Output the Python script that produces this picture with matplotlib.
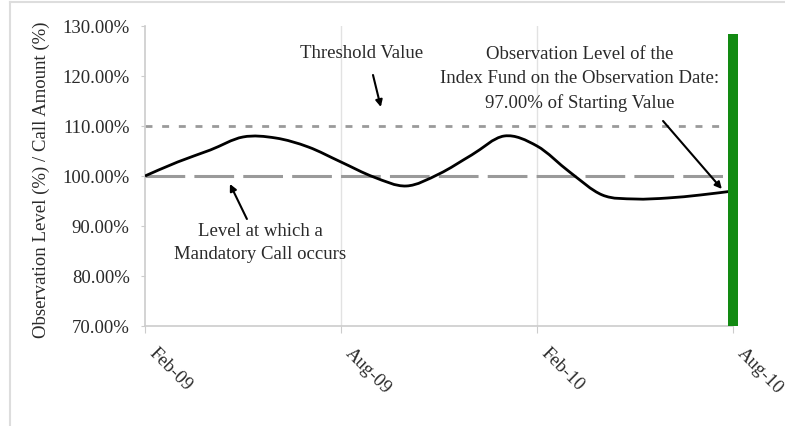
import matplotlib.pyplot as plt
import matplotlib.transforms as mtransforms
from matplotlib.lines import Line2D
from matplotlib.path import Path
from matplotlib.patches import PathPatch

plt.rcParams['font.family'] = ['Liberation Serif', 'DejaVu Serif']

# monthly observation level, Feb-09 .. Aug-10
months = list(range(19))
level = [100.0, 102.8, 105.2, 107.8, 107.6, 105.8, 102.8, 99.8, 98.0, 100.4,
         104.2, 108.0, 106.0, 100.8, 96.2, 95.4, 95.6, 96.2, 97.0]
tick_pos = [0, 6, 12, 18]
tick_labels = ["Feb-09", "Aug-09", "Feb-10", "Aug-10"]
threshold = 110.0
call_level = 100.0
obs_bar = 128.4

txt = '#2a2a2a'
fs = 13.5
fig = plt.figure(figsize=(7.85, 4.27), dpi=100)
ax = fig.add_axes([0.1847, 0.2342, 0.749, 0.7026])

ax.set_xlim(0, 18)
ax.set_ylim(70, 130)

# vertical grid
for p in tick_pos[1:3]:
    ax.axvline(p, color='#e2e2e2', lw=1, zorder=0)

ax.plot([0, 18], [threshold, threshold], color='#9a9a9a', lw=2, dashes=(2.5, 3.5), zorder=2)
ax.plot([0, 18], [call_level, call_level], color='#9a9a9a', lw=2.2, dashes=(13, 3), zorder=2)

# smoothed line through the monthly points (like Excel's smoothed line)
pts = list(zip(months, level))
verts = [pts[0]]
codes = [Path.MOVETO]
for i in range(len(pts) - 1):
    p0 = pts[max(i - 1, 0)]
    p1 = pts[i]
    p2 = pts[i + 1]
    p3 = pts[min(i + 2, len(pts) - 1)]
    c1 = (p1[0] + (p2[0] - p0[0]) / 6, p1[1] + (p2[1] - p0[1]) / 6)
    c2 = (p2[0] - (p3[0] - p1[0]) / 6, p2[1] - (p3[1] - p1[1]) / 6)
    verts += [c1, c2, p2]
    codes += [Path.CURVE4] * 3
ax.add_patch(PathPatch(Path(verts, codes), fill=False, edgecolor='black', lw=2, zorder=3))

ax.bar([18], [obs_bar - 70], bottom=70, width=0.33, color='#128a12', zorder=4, clip_on=False)

ax.set_yticks([70, 80, 90, 100, 110, 120, 130])
ax.set_yticklabels([f"{v:.2f}%" for v in [70, 80, 90, 100, 110, 120, 130]])
ax.set_xticks(tick_pos)
ax.set_xticklabels(tick_labels, rotation=-45, ha='left', va='top', rotation_mode='anchor')
ax.tick_params(axis='y', colors='#cccccc', labelcolor=txt, labelsize=fs, length=3, pad=8)
ax.tick_params(axis='x', colors='#cccccc', labelcolor=txt, labelsize=fs, length=5, pad=8)
shift = mtransforms.ScaledTranslation(13 / 100, 0, fig.dpi_scale_trans)
for lab in ax.get_xticklabels():
    lab.set_transform(lab.get_transform() + shift)

for s in ['top', 'right']:
    ax.spines[s].set_visible(False)
for s in ['left', 'bottom']:
    ax.spines[s].set_color('#cccccc')
    ax.spines[s].set_linewidth(1.2)

ax.set_ylabel("Observation Level (%) / Call Amount (%)", fontsize=fs, color=txt)
ax.yaxis.set_label_coords(-0.162, 0.49)

arrow = dict(arrowstyle='-|>', color='black', lw=1.5, mutation_scale=10, shrinkA=0, shrinkB=0)
ax.text(6.64, 124.6, "Threshold Value", ha='center', va='center', fontsize=fs, color=txt)
ax.annotate('', xy=(7.22, 113.8), xytext=(6.98, 120.2), arrowprops=arrow)

ax.text(13.3, 119.6, "Observation Level of the\nIndex Fund on the Observation Date:\n97.00% of Starting Value",
        ha='center', va='center', fontsize=fs, color=txt, linespacing=1.5)
ax.annotate('', xy=(17.66, 97.4), xytext=(15.86, 111), arrowprops=arrow)

ax.text(3.52, 86.8, "Level at which a\nMandatory Call occurs", ha='center', va='center',
        fontsize=fs, color=txt, linespacing=1.5)
ax.annotate('', xy=(2.6, 98.4), xytext=(3.12, 91.4), arrowprops=arrow)

# outer frame
fig.add_artist(Line2D([10 / 785, 1], [1 - 3 / 427, 1 - 3 / 427], color='#dddddd', lw=1.5))
fig.add_artist(Line2D([10 / 785, 10 / 785], [0, 1 - 3 / 427], color='#dddddd', lw=1.5))

fig.savefig("out.png", dpi=100)
